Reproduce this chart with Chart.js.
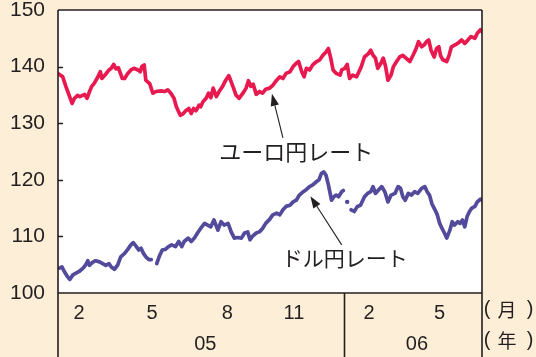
<!DOCTYPE html>
<html>
<head>
<meta charset="utf-8">
<script src="https://cdn.jsdelivr.net/npm/chart.js@4/dist/chart.umd.min.js"></script>
<style>
  html, body { margin: 0; padding: 0; background: #fdefd7; }
  #wrap { width: 536px; height: 357px; }
</style>
</head>
<body>
<div id="wrap"><canvas id="c" width="536" height="357"></canvas></div>
<script>
// Days are counted from 1 January 2005.
const monthTickDays   = [27, 120, 216, 301, 397, 487];
const monthTickLabels = ['2', '5', '8', '11', '2', '5'];
const yearTickDays    = [188, 458];
const yearTickLabels  = ['05', '06'];
const yearStartDays   = [0, 365];
const yTicks          = [100, 110, 120, 130, 140, 150];

// Euro / yen rate
const euroDays = [0,6,10,14,18,21,25,28,34,37,40,43,46,51,54,56,60,65,68,71,74,77,82,85,89,93,97,102,105,107,110,112,117,121,125,131,136,140,144,148,151,156,159,163,167,170,173,176,180,182,185,189,192,195,198,202,206,210,214,218,221,224,227,231,236,240,243,246,249,253,257,261,265,270,274,279,283,287,291,296,300,304,307,311,314,317,321,325,330,334,338,342,345,348,351,355,360,362,366,369,372,376,381,384,387,391,396,399,402,405,408,412,415,418,421,425,428,432,436,440,444,449,453,457,460,464,467,470,473,476,480,483,486,488,491,496,499,502,506,510,515,519,523,527,532,535,539,541];
const euroRates = [138.8,138.2,136.5,135.0,133.5,134.4,134.9,134.7,135.1,134.4,135.5,136.5,137.0,138.2,139.1,137.9,138.5,139.4,139.7,140.4,139.6,139.8,137.9,137.9,138.8,139.4,139.7,139.4,139.1,140.0,140.3,137.6,137.0,135.3,135.6,135.7,135.6,135.9,135.3,134.4,132.9,131.4,131.6,132.2,132.6,131.7,132.6,132.2,133.2,132.9,133.8,134.4,135.3,134.5,136.2,134.7,135.7,136.5,137.6,138.4,137.3,136.2,135.0,134.4,135.3,136.2,137.5,136.5,136.9,135.1,135.6,135.3,136.0,136.2,136.7,137.6,138.2,137.9,138.8,139.1,140.0,140.6,140.9,139.1,138.2,139.7,139.4,140.3,140.9,141.2,142.0,142.6,143.2,141.5,139.4,138.8,138.5,139.4,139.7,140.4,137.9,138.5,138.2,139.1,140.0,141.7,142.3,142.9,142.0,141.5,139.7,140.6,141.5,140.0,137.6,138.5,140.0,140.9,141.7,142.0,141.5,140.9,142.0,143.2,144.4,143.5,143.8,144.4,144.7,142.9,141.7,143.2,143.5,142.0,141.2,140.9,142.0,143.5,143.8,144.1,144.7,144.1,144.7,145.3,145.0,145.9,146.5,146.2];

// Dollar / yen rate (null = no quote, the line breaks there)
const usdDays = [2,5,8,12,15,19,23,27,32,35,38,40,44,48,53,57,61,65,68,72,76,80,85,89,93,96,100,103,106,109,112,116,119,122,126,129,133,137,141,145,150,154,158,161,166,170,174,178,182,187,191,195,199,204,208,212,217,221,225,229,234,238,242,245,248,253,257,261,265,270,274,279,283,287,291,296,300,304,308,313,317,321,325,330,333,336,339,342,345,349,352,355,358,362,364,366,369,371,374,378,382,386,391,395,399,402,405,409,413,417,421,425,430,434,437,440,443,447,451,455,459,464,468,471,474,477,481,484,487,490,493,496,500,503,506,510,513,516,519,522,525,528,532,535,539,541];
const usdRates = [104.4,104.6,103.8,102.9,102.4,103.2,103.5,103.8,104.4,104.9,105.7,104.9,105.4,105.7,105.5,105.2,104.9,105.2,104.6,104.2,104.9,106.4,107.0,107.7,108.5,108.9,108.2,107.6,107.9,107.0,106.4,105.9,105.9,null,105.2,106.4,107.6,107.7,108.2,108.5,108.2,109.1,108.2,109.1,109.7,109.1,109.7,110.6,111.4,112.3,112.0,111.7,112.9,111.1,112.6,112.0,112.3,110.8,109.7,109.8,109.7,110.6,110.8,109.4,110.0,110.6,110.8,111.4,112.3,113.0,113.8,114.1,113.8,114.7,115.3,115.5,116.1,116.4,117.3,117.9,118.3,118.8,119.1,119.7,120.0,121.1,121.4,120.8,119.1,116.4,117.0,117.3,117.0,117.9,118.1,null,116.1,null,114.7,114.4,115.3,115.5,117.0,117.6,117.9,118.8,117.6,118.2,118.8,117.9,116.1,117.3,117.6,118.8,118.5,117.0,116.4,117.6,117.3,117.9,117.6,118.5,118.8,117.9,117.3,115.8,114.7,113.8,112.3,111.4,110.6,109.7,111.1,112.6,112.0,112.6,112.3,112.9,111.7,113.5,114.4,115.0,115.3,116.1,116.6,116.4];

const INK = '#231f20';
const EURO_COLOR = '#e8194f';
const USD_COLOR = '#524a9a';
const NUM_FONT = '"Liberation Sans", Arial, sans-serif';
const JP_FONT = '"Noto Sans CJK JP", sans-serif';

// Callout labels with arrows, anchored in data units (day, rate)
const callouts = [
  { text: 'ユーロ円レート', size: 22, at: [304, 124.9], from: [287, 127.4], to: [273, 135.2] },
  { text: 'ドル円レート',   size: 21, at: [366, 106.2], from: [362, 108.5], to: [322, 117.1] }
];

function toPoints(days, rates) {
  return days.map((d, i) => ({ x: d, y: rates[i] }));
}

function isolatedRadius(ctx) {
  const d = ctx.dataset.data, i = ctx.dataIndex;
  if (!d[i] || d[i].y == null) return 0;
  const prev = d[i - 1], next = d[i + 1];
  return ((!prev || prev.y == null) && (!next || next.y == null)) ? 2.2 : 0;
}

const framePlugin = {
  id: 'frame',
  beforeDraw(chart) {
    const { ctx, chartArea: a } = chart;
    ctx.save();
    ctx.fillStyle = '#fdefd7';
    ctx.fillRect(0, 0, chart.width, chart.height);
    ctx.fillStyle = '#ffffff';
    ctx.fillRect(a.left, a.top, a.right - a.left, a.bottom - a.top);
    ctx.restore();
  },
  afterDatasetsDraw(chart) {
    const { ctx, chartArea: a, scales } = chart;
    const xs = scales.x, ys = scales.y;
    ctx.save();
    ctx.strokeStyle = INK;
    ctx.lineWidth = 1.6;
    // plot frame, with the left and right edges running down through the date rows
    ctx.beginPath();
    ctx.moveTo(a.left, a.top); ctx.lineTo(a.right, a.top);
    ctx.moveTo(a.left, a.bottom); ctx.lineTo(a.right, a.bottom);
    ctx.moveTo(a.left, a.top); ctx.lineTo(a.left, chart.height);
    ctx.moveTo(a.right, a.top); ctx.lineTo(a.right, chart.height);
    // year separators below the axis
    yearStartDays.slice(1).forEach(d => {
      const px = Math.round(xs.getPixelForValue(d)) + 0.5;
      ctx.moveTo(px, a.bottom); ctx.lineTo(px, chart.height);
    });
    // short inward ticks on the value axis
    yTicks.slice(1, -1).forEach(v => {
      const py = Math.round(ys.getPixelForValue(v)) + 0.5;
      ctx.moveTo(a.left, py); ctx.lineTo(a.left + 5, py);
    });
    ctx.stroke();

    // unit captions to the right of the date rows
    ctx.fillStyle = INK;
    ctx.textBaseline = 'middle';
    ctx.textAlign = 'center';
    const rows = [[scales.x, '月'], [scales.x2, '年']];
    rows.forEach(([s, ch]) => {
      const cy = s.top + s.height / 2 + (s === scales.x ? 1 : 0);
      ctx.font = '20px ' + NUM_FONT;
      ctx.fillText('(', a.right + 5, cy - 1);
      ctx.fillText(')', a.right + 48, cy - 1);
      ctx.font = '19px ' + JP_FONT;
      ctx.fillText(ch, a.right + 25, cy);
    });

    // callouts
    callouts.forEach(c => {
      const tx = xs.getPixelForValue(c.at[0]), ty = ys.getPixelForValue(c.at[1]);
      ctx.font = c.size + 'px ' + JP_FONT;
      ctx.fillText(c.text, tx, ty);
      const x0 = xs.getPixelForValue(c.from[0]), y0 = ys.getPixelForValue(c.from[1]);
      const x1 = xs.getPixelForValue(c.to[0]), y1 = ys.getPixelForValue(c.to[1]);
      const ang = Math.atan2(y1 - y0, x1 - x0);
      const len = 12, half = 4.2;
      const bx = x1 - len * Math.cos(ang), by = y1 - len * Math.sin(ang);
      ctx.lineWidth = 1.1;
      ctx.beginPath();
      ctx.moveTo(x0, y0); ctx.lineTo(bx, by);
      ctx.stroke();
      ctx.beginPath();
      ctx.moveTo(x1, y1);
      ctx.lineTo(bx + half * Math.sin(ang), by - half * Math.cos(ang));
      ctx.lineTo(bx - half * Math.sin(ang), by + half * Math.cos(ang));
      ctx.closePath();
      ctx.fill();
    });
    ctx.restore();
  }
};

new Chart(document.getElementById('c'), {
  type: 'line',
  data: {
    datasets: [
      {
        label: 'ユーロ円レート',
        data: toPoints(euroDays, euroRates),
        borderColor: EURO_COLOR,
        backgroundColor: EURO_COLOR,
        borderWidth: 3.7,
        pointRadius: 0,
        tension: 0,
        borderJoinStyle: 'round',
        borderCapStyle: 'round'
      },
      {
        label: 'ドル円レート',
        data: toPoints(usdDays, usdRates),
        borderColor: USD_COLOR,
        backgroundColor: USD_COLOR,
        borderWidth: 3.7,
        pointRadius: isolatedRadius,
        pointBorderWidth: 0,
        spanGaps: false,
        tension: 0,
        borderJoinStyle: 'round',
        borderCapStyle: 'round'
      }
    ]
  },
  options: {
    responsive: false,
    animation: false,
    devicePixelRatio: 1,
    layout: { padding: { left: 0, right: 54, top: 10, bottom: 0 } },
    plugins: { legend: { display: false }, tooltip: { enabled: false } },
    scales: {
      x: {
        type: 'linear', min: 0, max: 541, position: 'bottom',
        afterBuildTicks: s => { s.ticks = monthTickDays.map(v => ({ value: v })); },
        afterFit: s => { s.height = 32; s.paddingLeft = 0; s.paddingRight = 0; },
        grid: { display: false, drawTicks: false },
        border: { display: false },
        ticks: {
          autoSkip: false, maxRotation: 0, padding: 8, color: INK,
          font: { family: NUM_FONT, size: 20 },
          callback: (v, i) => monthTickLabels[i]
        }
      },
      x2: {
        type: 'linear', min: 0, max: 541, position: 'bottom',
        afterBuildTicks: s => { s.ticks = yearTickDays.map(v => ({ value: v })); },
        afterFit: s => { s.height = 32; s.paddingLeft = 0; s.paddingRight = 0; },
        grid: { display: false, drawTicks: false },
        border: { display: false },
        ticks: {
          autoSkip: false, maxRotation: 0, padding: 7, color: INK,
          font: { family: NUM_FONT, size: 20 },
          callback: (v, i) => yearTickLabels[i]
        }
      },
      y: {
        min: 100, max: 150,
        afterBuildTicks: s => { s.ticks = yTicks.map(v => ({ value: v })); },
        afterFit: s => { s.width = 58; s.paddingTop = 0; s.paddingBottom = 0; },
        grid: { display: false, drawTicks: false },
        border: { display: false },
        ticks: { padding: 13, color: INK, font: { family: NUM_FONT, size: 21 } }
      }
    }
  },
  plugins: [framePlugin]
});
</script>
</body>
</html>
